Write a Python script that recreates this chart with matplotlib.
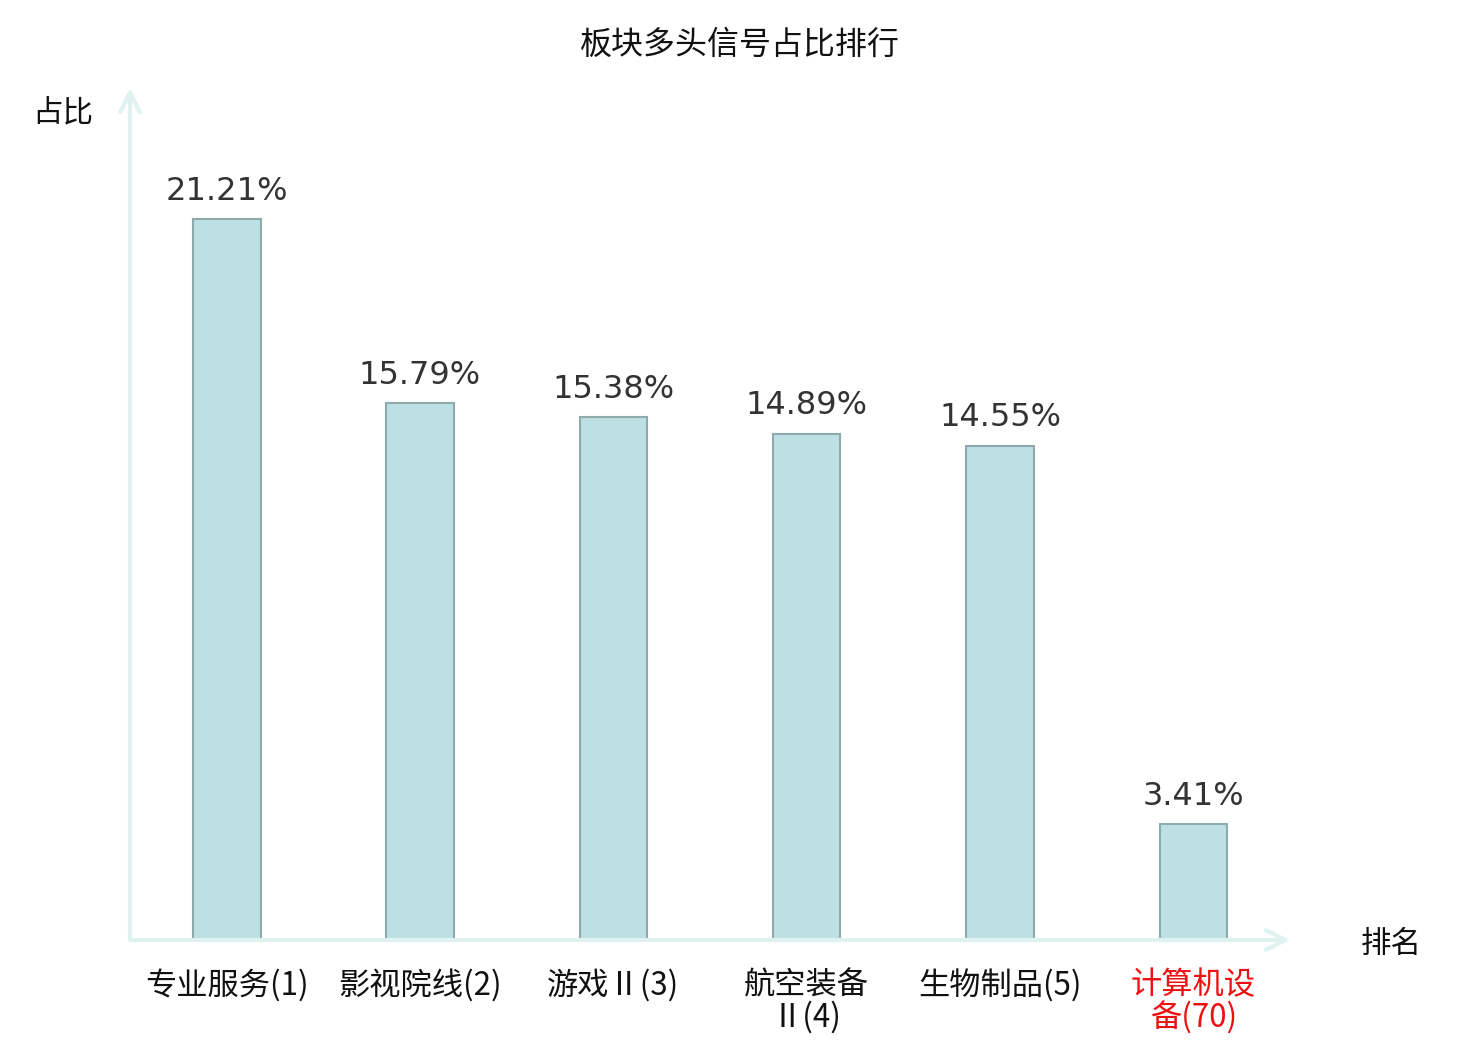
import matplotlib
matplotlib.use("Agg")
import matplotlib.pyplot as plt
from matplotlib.transforms import blended_transform_factory

plt.rcParams['font.family'] = ['Noto Sans CJK SC', 'DejaVu Sans']

title = "板块多头信号占比排行"
categories = ["专业服务(1)", "影视院线(2)", "游戏Ⅱ(3)", "航空装备Ⅱ(4)", "生物制品(5)", "计算机设备(70)"]
values = [21.21, 15.79, 15.38, 14.89, 14.55, 3.41]
highlight = [False, False, False, False, False, True]
y_name = "占比"
x_name = "排名"

W, H = 1480, 1040
fig = plt.figure(figsize=(W / 100, H / 100), dpi=100)
left, right, bottom, top = 130, 1290, 940, 88
ax = fig.add_axes([left / W, 1 - bottom / H, (right - left) / W, (bottom - top) / H])

x = list(range(len(categories)))
ax.bar(x, values, width=0.35, color="#bce0e3", edgecolor="#8eaaaa", linewidth=1.5, zorder=2)
ax.set_xlim(-0.5, len(categories) - 0.5)
ax.set_ylim(0, 25.07)

for xi, v in zip(x, values):
    ax.annotate(f"{v:.2f}%", xy=(xi, v), xytext=(0, 9), textcoords="offset points",
                ha="center", va="bottom", fontsize=23, color="#333333", family="DejaVu Sans")

for s in ax.spines.values():
    s.set_visible(False)
ax.set_yticks([])
ax.set_xticks([])

axis_color = "#dff2ef"
arrow = dict(arrowstyle="->,head_length=1.4,head_width=0.7", color=axis_color, lw=3,
             shrinkA=0, shrinkB=0)
ax.annotate("", xy=(0, 1), xytext=(0, 0), xycoords="axes fraction", arrowprops=arrow, annotation_clip=False)
ax.annotate("", xy=(1, 0), xytext=(0, 0), xycoords="axes fraction", arrowprops=arrow, annotation_clip=False)

def wrap(label, maxlen=7, chunk=4):
    if len(label) > maxlen:
        return label[:chunk] + "\n" + label[chunk:]
    return label

trans = blended_transform_factory(ax.transData, ax.transAxes)
for xi, lab, hl in zip(x, categories, highlight):
    ax.annotate(wrap(lab), xy=(xi, 0), xycoords=trans, xytext=(0, -21), textcoords="offset points",
                ha="center", va="top", fontsize=22.5, linespacing=1.0,
                color="#ee1111" if hl else "#111111", annotation_clip=False)

fig.text(740 / W, 1 - 45 / H, title, ha="center", va="center", fontsize=23, color="#111111")
fig.text(63 / W, 1 - 113 / H, y_name, ha="center", va="center", fontsize=22, color="#111111")
fig.text(1391 / W, 1 - 944 / H, x_name, ha="center", va="center", fontsize=22, color="#111111")

fig.savefig("out.png", dpi=100)
